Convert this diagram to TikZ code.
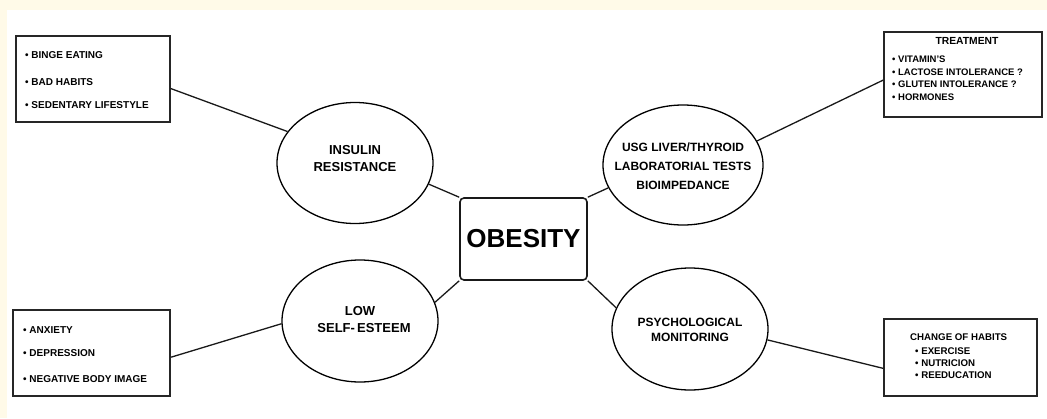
\documentclass[tikz,border=0pt]{standalone}
\usepackage{fontspec}
\setmainfont{Liberation Sans}
\usetikzlibrary{shapes.geometric}
\definecolor{cream}{HTML}{FFFAE8}
\begin{document}
\begin{tikzpicture}[x=1pt,y=-1pt,
  box/.style={draw=black!85,line width=1.6pt,fill=white,inner sep=0pt},
  oval/.style={ellipse,draw=black,line width=1.3pt,inner sep=0pt,minimum width=156pt,minimum height=121pt},
  conn/.style={draw=black!90,line width=1.3pt},
  sm/.style={font=\bfseries\fontsize{10}{11}\selectfont,anchor=west,inner sep=0pt},
  sr/.style={font=\bfseries\fontsize{9.5}{11}\selectfont,anchor=west,inner sep=0pt},
  sb/.style={font=\bfseries\fontsize{9.7}{11}\selectfont,anchor=west,inner sep=0pt},
  big/.style={font=\bfseries\fontsize{13}{17}\selectfont,align=center,inner sep=0pt},
  mid/.style={font=\bfseries\fontsize{12}{19}\selectfont,align=center,inner sep=0pt}]
\useasboundingbox (0,0) rectangle (1047,418);
\fill[cream] (0,0) rectangle (1047,418);
\fill[white] (7,10) rectangle (1047,418);

% boxes
\node[box,minimum width=154pt,minimum height=86pt] (b1) at (93,79) {};
\node[sm] (t11) at (25,55) {• BINGE EATING};
\node[sm] (t12) at (25,82) {• BAD HABITS};
\node[sm] (t13) at (25,105) {• SEDENTARY LIFESTYLE};

\node[box,minimum width=158pt,minimum height=85pt] (b2) at (963,74.5) {};
\node[font=\bfseries\fontsize{10.3}{12}\selectfont,inner sep=0pt] (t20) at (967,41) {TREATMENT};
\node[sr] (t21) at (892,59) {• VITAMIN'S};
\node[sr] (t22) at (892,72) {• LACTOSE INTOLERANCE ?};
\node[sr] (t23) at (892,84) {• GLUTEN INTOLERANCE ?};
\node[sr] (t24) at (892,97) {• HORMONES};

\node[box,line width=2.2pt,minimum width=157pt,minimum height=86pt] (b3) at (91.5,353) {};
\node[sm] (t31) at (23,330) {• ANXIETY};
\node[sm] (t32) at (23,353) {• DEPRESSION};
\node[sm] (t33) at (23,379) {• NEGATIVE BODY IMAGE};

\node[box,minimum width=153pt,minimum height=77pt] (b4) at (960.5,357.5) {};
\node[sb] (t40) at (910,337) {CHANGE OF HABITS};
\node[sb] (t41) at (915,351) {• EXERCISE};
\node[sb] (t42) at (915,363) {• NUTRICION};
\node[sb] (t43) at (915,375) {• REEDUCATION};

% ellipses
\node[oval] (ins) at (355,163) {};
\node[big] (tins) at (355,159) {INSULIN\\RESISTANCE};
\node[oval,minimum width=160pt,minimum height=120pt] (usg) at (683,165) {};
\node[mid] (tusg) at (683,166) {USG LIVER/THYROID\\LABORATORIAL TESTS\\BIOIMPEDANCE};
\node[oval,minimum height=122pt] (low) at (360,321) {};
\node[big] (tlow) at (360,320) {LOW\\\hspace*{8pt}SELF-\,ESTEEM};
\node[oval,minimum height=122pt] (psy) at (690,329) {};
\node[mid,font=\bfseries\fontsize{12}{15}\selectfont] (tpsy) at (690,330) {PSYCHOLOGICAL\\MONITORING};

% center
\node[draw=black!90,line width=1.6pt,rounded corners=4pt,minimum width=127pt,minimum height=82pt,
  font=\bfseries\fontsize{26}{30}\selectfont,inner sep=0pt] (ob) at (523.5,239) {OBESITY};

% connectors
\draw[conn] (b1.-7) -- (ins.155);
\draw[conn] (ins.-16) -- (ob.north west);
\draw[conn] (ob.north east) -- (usg.197);
\draw[conn] (usg.18) -- (b2.184);
\draw[conn] (ob.south west) -- (low.14);
\draw[conn] (b3.-3) -- (low.182);
\draw[conn] (ob.south east) -- (psy.164);
\draw[conn] (psy.-8) -- (b4.188);
\end{tikzpicture}
\end{document}
